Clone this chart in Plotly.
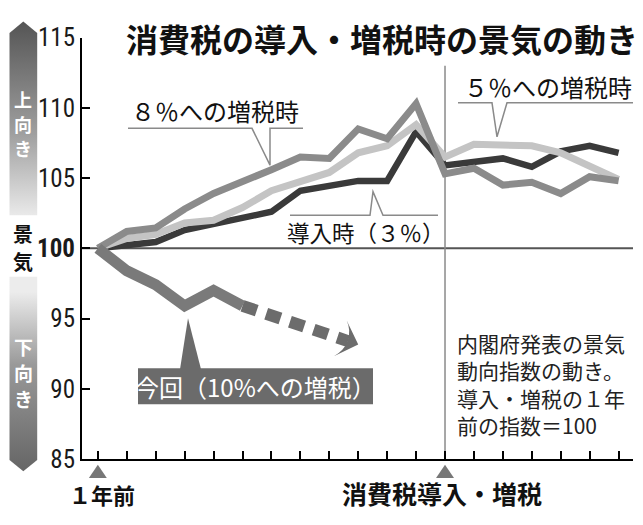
import plotly.graph_objects as go

W, H = 643, 525

# ---- data ----
months = list(range(-12, 7))          # months relative to tax introduction / hike
intro_3 = [100, 100.2, 100.45, 101.3, 101.7, 102.2, 102.6, 104.1, 104.45, 104.8,
           104.8, 108.3, 105.9, 106.1, 106.4, 105.8, 106.9, 107.3, 106.8]
hike_5 = [100, 100.7, 101.0, 101.8, 102.0, 102.9, 104.1, 104.8, 105.4, 106.8,
          107.3, 108.8, 106.5, 107.4, 107.4, 107.3, 106.8, 105.8, 104.9]
hike_8 = [100, 101.2, 101.45, 102.8, 103.9, 104.7, 105.6, 106.5, 106.4, 108.5,
          107.8, 110.3, 105.3, 105.7, 104.5, 104.7, 103.9, 105.1, 104.8]
current_months = [-12, -11, -10, -9, -8, -7]
current_10 = [100, 98.4, 97.4, 95.9, 97.0, 95.9]
trend_months = [-7, -3.0]
trend_10 = [95.9, 93.15]
y_ticks = [85, 90, 95, 100, 105, 110, 115]
y_ticktext = ["85", "90", "95", "<b>100</b>", "105", "110", "115"]
marker_months = [-12, 0]   # 1年前 / 消費税導入・増税

JP = "Noto Sans CJK JP"
NUM = "Liberation Sans Narrow, Roboto Condensed, DejaVu Sans Condensed, Arial Narrow, sans-serif"

fig = go.Figure()

# ---- decorative gradient arrows on the left (pixel overlay axes) ----
fig.add_trace(go.Scatter(
    x=[9.5, 9.5, 23.3, 37.2, 37.2, 9.5], y=[213, 20, 8, 20, 213, 213],
    xaxis="x2", yaxis="y2", mode="lines", line=dict(width=0), fill="toself",
    fillgradient=dict(type="vertical", start=8, stop=213,
                      colorscale=[[0, "#555555"], [0.55, "#a0a0a0"], [1, "#f4f4f4"]]),
    hoverinfo="skip"))
fig.add_trace(go.Scatter(
    x=[9.5, 37.2, 37.2, 23.3, 9.5, 9.5], y=[278, 278, 472, 484, 472, 278],
    xaxis="x2", yaxis="y2", mode="lines", line=dict(width=0), fill="toself",
    fillgradient=dict(type="vertical", start=278, stop=484,
                      colorscale=[[0, "#ececec"], [0.35, "#9a9a9a"], [1, "#585858"]]),
    hoverinfo="skip"))

# ---- data lines ----
fig.add_trace(go.Scatter(x=months, y=intro_3, mode="lines",
                         line=dict(color="#3a3a3a", width=6.5), hoverinfo="skip"))
fig.add_trace(go.Scatter(x=months, y=hike_5, mode="lines",
                         line=dict(color="#c4c4c4", width=7), hoverinfo="skip"))
fig.add_trace(go.Scatter(x=months, y=hike_8, mode="lines",
                         line=dict(color="#8b8b8b", width=7), hoverinfo="skip"))
fig.add_trace(go.Scatter(x=trend_months, y=trend_10, mode="lines+markers",
                         line=dict(color="#6c6c6c", width=12, dash="15px,10px"),
                         marker=dict(symbol="arrow-wide", size=27, angleref="previous",
                                     color="#6c6c6c"),
                         hoverinfo="skip"))
fig.add_trace(go.Scatter(x=current_months, y=current_10, mode="lines",
                         line=dict(color="#7a7a7a", width=11), hoverinfo="skip"))

shapes = [
    dict(type="line", xref="x domain", x0=0, x1=1, yref="y", y0=100, y1=100,
         line=dict(color="#555555", width=2), layer="below"),
    dict(type="line", xref="x", x0=0, x1=0, yref="y", y0=85, y1=113.0,
         line=dict(color="#8a8a8a", width=1.5), layer="below"),
    # callouts (pixel overlay)
    dict(type="path", xref="x2", yref="y2",
         path="M128,121 L252,121 L270,160 L270,121 L303,121",
         line=dict(color="#8a8a8a", width=1.5)),
    dict(type="path", xref="x2", yref="y2",
         path="M290,213 L370,213 L373,188 L383,213 L438,213",
         line=dict(color="#8a8a8a", width=1.5)),
    dict(type="path", xref="x2", yref="y2",
         path="M458,94 L492,94 L497,130 L507,94 L633,94",
         line=dict(color="#8a8a8a", width=1.5)),
    dict(type="rect", xref="x2", yref="y2", x0=138, x1=373, y0=375, y1=413,
         fillcolor="#6b6b6b", line=dict(width=0)),
    dict(type="path", xref="x2", yref="y2",
         path="M180,376 L188,322 L201,376 Z",
         fillcolor="#6b6b6b", line=dict(width=0)),
]
# small gray triangles under the x axis at the two reference months
for m in marker_months:
    shapes.append(dict(type="path", xref="x", yref="y2",
                       path="M{a},491 L{b},477 L{c},491 Z".format(a=m - 0.31, b=m, c=m + 0.31),
                       fillcolor="#777777", line=dict(width=0)))

ann = []


def txt(x, y, text, size, color="#111111", family=JP, xanchor="center", align="center", **kw):
    ann.append(dict(x=x, y=y, xref="x2", yref="y2", text=text, showarrow=False,
                    font=dict(size=size, color=color, family=family),
                    xanchor=xanchor, yanchor="middle", align=align, **kw))


txt(382, 25, "<b>消費税の導入・増税時の景気の動き</b>", 32)
txt(215, 102, "８％への増税時", 24)
txt(366, 231, "導入時（３％）", 22.5)
txt(548, 77, "５％への増税時", 24)
txt(255.5, 394, "今回（10%への増税）", 24, color="white")
txt(455, 392, "内閣府発表の景気<br>動向指数の動き。<br>導入・増税の１年<br>前の指数＝100",
    21, color="#222222", xanchor="left", align="left")
txt(102, 508, "<b>１年前</b>", 22)
txt(442, 507, "<b>消費税導入・増税</b>", 25)

# vertical labels, one character per annotation
for ch, yy in zip("上向き", [90, 116, 142]):
    txt(23.3, yy, "<b>" + ch + "</b>", 18, color="white")
for ch, yy in zip("下向き", [352, 379.5, 407]):
    txt(23.3, yy, "<b>" + ch + "</b>", 19, color="white")
for ch, yy in zip("景気", [232.5, 261.5]):
    txt(23.3, yy, "<b>" + ch + "</b>", 20, color="#111111")

fig.update_layout(
    width=W, height=H, margin=dict(l=0, r=0, t=0, b=0),
    paper_bgcolor="white", plot_bgcolor="rgba(0,0,0,0)", showlegend=False,
    xaxis=dict(domain=[82 / W, 633 / W], range=[-12.548, 6.498],
               tickvals=months, ticks="inside", ticklen=8, tickwidth=2,
               tickcolor="black", showticklabels=False, showline=True,
               linecolor="black", linewidth=2, showgrid=False, zeroline=False,
               fixedrange=True),
    yaxis=dict(domain=[1 - 471 / H, 1 - 25 / H], range=[85, 115],
               tickvals=y_ticks, ticktext=y_ticktext, ticks="inside", ticklen=8,
               tickwidth=2, tickcolor="black", showline=True, linecolor="black",
               linewidth=2, showgrid=False, zeroline=False, fixedrange=True,
               tickfont=dict(family=NUM, size=25, color="#1a1a1a")),
    xaxis2=dict(domain=[0, 1], range=[0, W], visible=False, anchor="y2",
                fixedrange=True),
    yaxis2=dict(domain=[0, 1], range=[H, 0], visible=False, anchor="x2",
                fixedrange=True),
    shapes=shapes, annotations=ann,
)

fig.write_html("out.html", config={"displayModeBar": False},
               post_script="document.body.style.margin='0';")
